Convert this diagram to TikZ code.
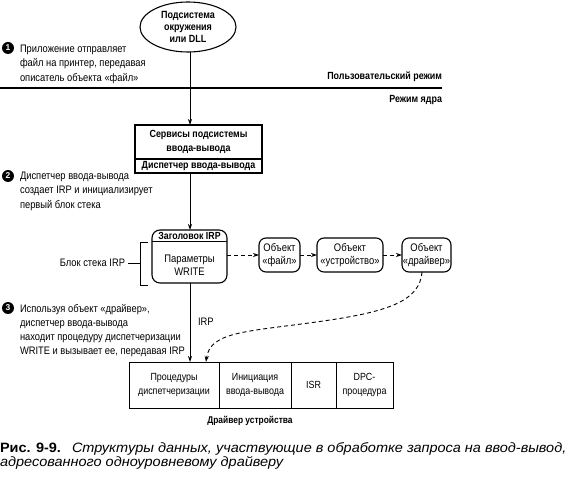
\documentclass[tikz,border=0pt]{standalone}
\usepackage{fontspec}
\setmainfont{Liberation Sans}
\newfontfamily\dfont[FakeStretch=0.86]{Liberation Sans}
\newfontfamily\capfont[FakeStretch=1.07]{Liberation Sans}
\usetikzlibrary{arrows.meta,shapes.geometric}
\begin{document}
\begin{tikzpicture}[x=1bp,y=-1bp,
  every node/.style={inner sep=0pt, outer sep=0pt},
  dtxt/.style={font=\dfont\fontsize{10.9}{14.3}\selectfont, align=left},
  btxt/.style={font=\dfont\bfseries\fontsize{10.4}{14.3}\selectfont, align=center},
  ctxt/.style={font=\dfont\fontsize{11}{13.5}\selectfont, align=center},
  boxline/.style={line width=1.1pt},
  stepnum/.style={circle, fill=black, minimum size=12bp, text=white, font=\bfseries\fontsize{8.5}{8.5}\selectfont},
  objbox/.style={draw, line width=1.1pt, rounded corners=7bp, minimum height=34bp, font=\dfont\fontsize{11}{13}\selectfont, align=center},
  dbox/.style={draw, line width=0.9pt, minimum height=46bp, font=\dfont\fontsize{10.4}{14}\selectfont, align=center},
  sarrow/.style={line width=0.8pt, -{Stealth[length=6bp,width=4bp]}},
  darrow/.style={line width=0.9pt, dash pattern=on 4bp off 3bp, -{Stealth[length=6bp,width=4bp]}}
]
\useasboundingbox (0,0) rectangle (570,477);

% ellipse
\node[ellipse, draw, boxline, minimum width=96bp, minimum height=50bp, align=center, font=\dfont\bfseries\fontsize{10.5}{12.5}\selectfont] (ell) at (188,27) {Подсистема\\окружения\\или DLL};

% mode line
\coordinate (ml) at (0,88);
\coordinate (mr) at (442,88);
\draw[line width=2.4pt] (ml) -- (mr);
\node[btxt, anchor=base east] (umode) at (442,80) {Пользовательский режим};
\node[btxt, anchor=base east] (kmode) at (442,103) {Режим ядра};

% step 1
\node[stepnum] (s1) at (8,48) {1};
\node[dtxt, anchor=base west] (t1) at (20,81.2) {Приложение отправляет\\файл на принтер, передавая\\описатель объекта «файл»};

% io boxes
\node[draw, boxline, minimum width=127bp, minimum height=34bp, btxt] (srv) at (198.5,142) {Сервисы подсистемы\\ввода-вывода};
\node[draw, boxline, minimum width=127bp, minimum height=14bp, btxt, anchor=north] (disp) at (srv.south) {Диспетчер ввода-вывода};

\draw[sarrow] (ell.south -| 190,0) -- (srv.north -| 190,0);

% step 2
\node[stepnum] (s2) at (8,176) {2};
\node[dtxt, anchor=base west] (t2) at (20,208.2) {Диспетчер ввода-вывода\\создает IRP и инициализирует\\первый блок стека};

% IRP
\node[draw, boxline, rounded corners=8bp, minimum width=75bp, minimum height=53bp] (irp) at (189.5,256.5) {};
\node[minimum width=75bp, minimum height=11.5bp, anchor=north, align=center, font=\dfont\bfseries\fontsize{10.3}{12}\selectfont] (irph) at (irp.north) {Заголовок IRP};
\draw[boxline] (irph.south west) -- (irph.south east);
\node[ctxt] (par) at (189.5,265.5) {Параметры\\WRITE};

\draw[sarrow] (disp.south -| 190,0) -- (irp.north -| 190,0);

% stack bracket
\coordinate (bt) at (148,242);
\coordinate (bb) at (148,285);
\draw[line width=0.8pt] (bt) -- ++(-8,0) |- (bb);
\node[dtxt, anchor=east] (blk) at (125,263) {Блок стека IRP};
\coordinate (bm) at (140,263);
\draw[line width=0.8pt] (blk.east) ++(3,0) -- (bm);

% step 3
\node[stepnum] (s3) at (8,308) {3};
\node[dtxt, anchor=base west] (t3) at (20,354.9) {Используя объект «драйвер»,\\диспетчер ввода-вывода\\находит процедуру диспетчеризации\\WRITE и вызывает ее, передавая IRP};

% objects
\node[objbox, minimum width=41bp] (file) at (279.5,255) {Объект\\«файл»};
\node[objbox, minimum width=66bp] (dev) at (350,255) {Объект\\«устройство»};
\node[objbox, minimum width=49bp] (drv) at (426.5,255) {Объект\\«драйвер»};
\draw[darrow] (irp.east |- file.west) -- (file.west);
\draw[darrow] (file.east) -- (dev.west);
\draw[darrow] (dev.east) -- (drv.west);

% device driver
\node[dbox, minimum width=90bp, anchor=north west] (dp) at (129,362) {Процедуры\\диспетчеризации};
\node[dbox, minimum width=72bp, anchor=north west] (init) at (dp.north east) {Инициация\\ввода-вывода};
\node[dbox, minimum width=45bp, anchor=north west] (isr) at (init.north east) {ISR};
\node[dbox, minimum width=57bp, anchor=north west] (dpc) at (isr.north east) {DPC-\\процедура};
\node[align=center, font=\dfont\bfseries\fontsize{9.8}{12}\selectfont] (drvlbl) at (250,421) {Драйвер устройства};

\draw[sarrow] (irp.south -| 190,0) -- (dp.north -| 190,0);
\node[dtxt, anchor=west] (irplbl) at (198,322) {IRP};
\draw[darrow] (drv.south -| 422,0) .. controls (420,300) and (390,311) .. (330,320) .. controls (250,332) and (210,330) .. (dp.north -| 206,0);

% caption
\node[anchor=base west, font=\capfont\fontsize{13.6}{14.5}\selectfont, align=left] (cap) at (0,466.5) {\textbf{Рис. 9-9.}\hspace{11bp}\textit{Структуры данных, участвующие в обработке запроса на ввод-вывод,}\\\textit{адресованного одноуровневому драйверу}};
\end{tikzpicture}
\end{document}
